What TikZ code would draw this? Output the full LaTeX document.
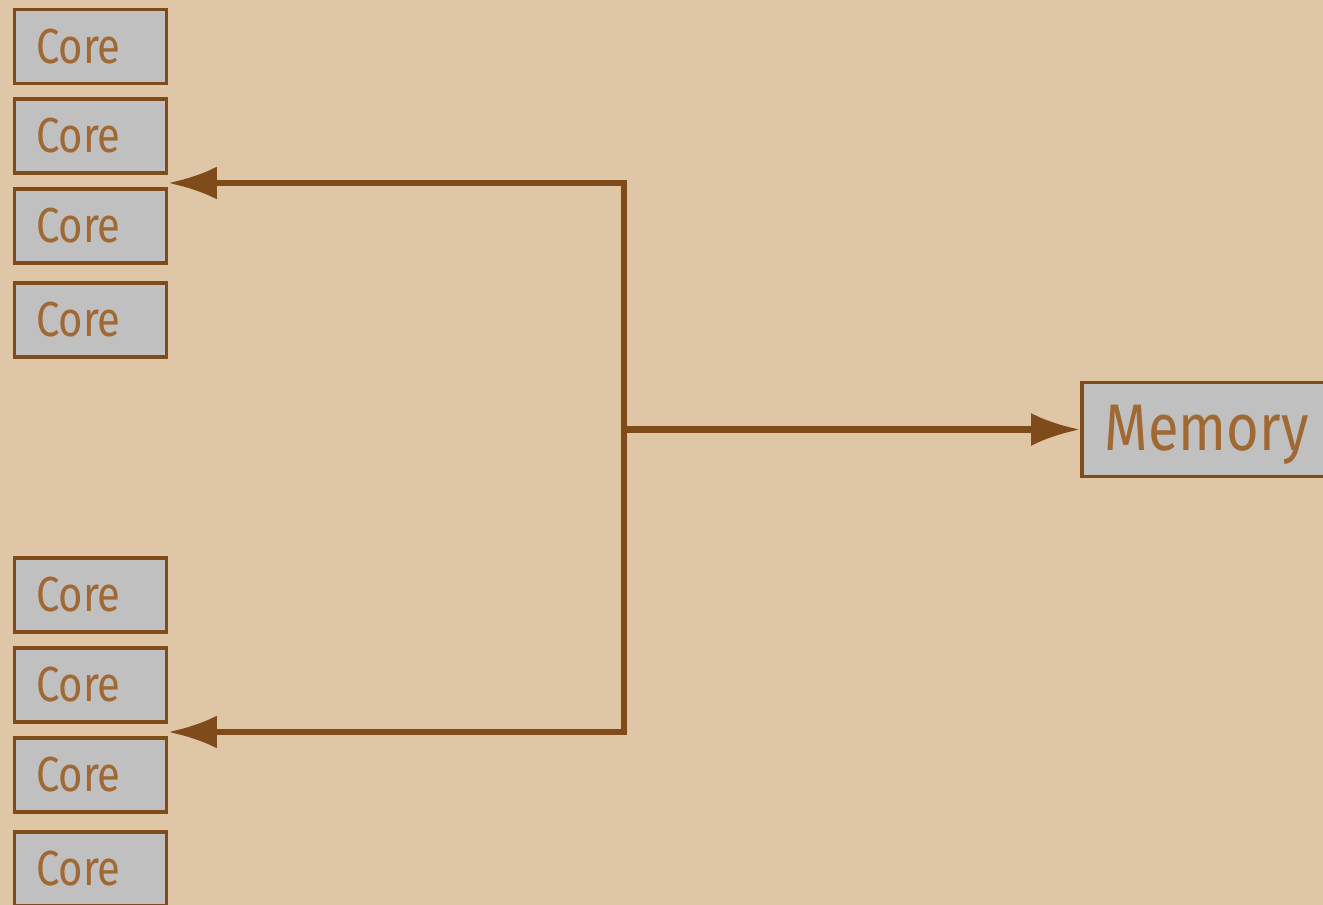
\documentclass[tikz,border=0pt]{standalone}
\usepackage{fontspec}
\newfontfamily\boxfont{Fira Sans}[FakeStretch=0.85]
\usetikzlibrary{arrows.meta}
\definecolor{bgtan}{RGB}{222,198,166}
\definecolor{corefill}{RGB}{192,192,192}
\definecolor{wire}{RGB}{127,75,27}
\definecolor{ink}{RGB}{160,104,50}
\begin{document}
\begin{tikzpicture}[x=0.02cm,y=-0.02cm,
        >={Latex[length=0.98cm,width=0.66cm]},
        core/.style={draw=wire,fill=corefill,line width=2pt,text=ink,
            font=\boxfont\fontsize{28}{30}\selectfont,
            text width=2.18cm,align=left,inner xsep=0.43cm,minimum height=1.48cm},
        mem/.style={draw=wire,fill=corefill,line width=2pt,text=ink,
            font=\boxfont\fontsize{37.5}{40}\selectfont,
            text height=0.86cm,text depth=0pt,minimum width=5cm,minimum height=1.88cm},
        bus/.style={draw=wire,line width=3.5pt}]
\fill[bgtan] (0,0) rectangle (1323,905);
\useasboundingbox (0,0) rectangle (1323,905);

\foreach \y [count=\i] in {46.5,136,226,320,595,685,775,869}
    \node[core] (core\i) at (90.5,\y) {Core};
\node[mem,anchor=west] (memory) at (1080,429.5) {Memory};

\coordinate (bus top) at (624,183);
\coordinate (bus mid) at (624,429.5);
\coordinate (bus bottom) at (624,732);
\coordinate (to top) at (168,183);
\coordinate (to bottom) at (168,732);

\draw[bus,<->] (to top) -- (bus top) -- (bus bottom) -- (to bottom);
\draw[bus,->] (bus mid) -- (memory.west);

\end{tikzpicture}
\end{document}
